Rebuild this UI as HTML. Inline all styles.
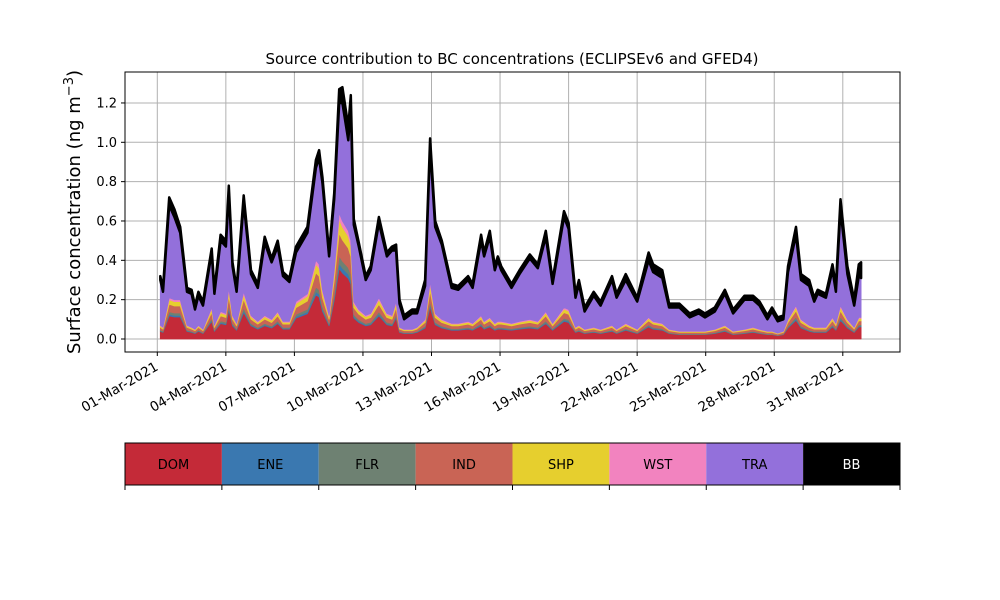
<!DOCTYPE html>
<html><head><meta charset="utf-8"><style>
body{margin:0;background:#fff;width:1000px;height:600px;overflow:hidden}
svg{display:block;font-family:"DejaVu Sans","Liberation Sans",sans-serif}
</style></head><body>
<svg id="chart" width="1000" height="600" viewBox="0 0 1000 600"></svg>
<script>
const days=[0.13,0.25,0.52,0.75,1.0,1.3,1.5,1.65,1.8,2.0,2.38,2.5,2.77,3.0,3.13,3.29,3.47,3.78,4.1,4.4,4.7,5.0,5.27,5.5,5.78,6.07,6.57,6.94,7.08,7.23,7.52,7.74,7.96,8.1,8.36,8.47,8.6,8.82,9.12,9.34,9.7,10.05,10.27,10.45,10.6,10.8,11.15,11.37,11.72,11.94,12.16,12.45,12.88,13.17,13.6,13.8,14.17,14.3,14.55,14.77,14.9,15.05,15.5,15.85,16.3,16.65,17.0,17.3,17.8,18.0,18.3,18.45,18.7,19.1,19.4,19.9,20.1,20.5,21.0,21.5,21.7,22.1,22.4,22.85,23.3,23.7,23.97,24.4,24.84,25.2,25.7,26.07,26.36,26.7,26.9,27.15,27.4,27.6,27.95,28.17,28.53,28.75,28.9,29.26,29.55,29.7,29.9,30.2,30.5,30.7,30.8];
const total=[0.32,0.26,0.72,0.66,0.57,0.26,0.25,0.17,0.24,0.19,0.46,0.25,0.53,0.50,0.78,0.39,0.26,0.73,0.35,0.28,0.52,0.41,0.50,0.34,0.31,0.47,0.57,0.91,0.96,0.82,0.44,0.74,1.27,1.28,1.08,1.24,0.61,0.49,0.32,0.37,0.62,0.44,0.47,0.48,0.20,0.12,0.15,0.15,0.30,1.02,0.60,0.50,0.28,0.27,0.32,0.28,0.53,0.44,0.55,0.37,0.42,0.37,0.28,0.35,0.43,0.38,0.55,0.30,0.65,0.59,0.23,0.30,0.16,0.24,0.19,0.32,0.23,0.33,0.21,0.44,0.38,0.35,0.18,0.18,0.13,0.15,0.13,0.16,0.25,0.15,0.22,0.22,0.19,0.12,0.16,0.11,0.12,0.37,0.57,0.33,0.30,0.21,0.25,0.23,0.38,0.27,0.71,0.37,0.20,0.38,0.39];
const lowerTotal=[0.07,0.06,0.21,0.20,0.20,0.07,0.06,0.05,0.07,0.05,0.16,0.07,0.14,0.13,0.26,0.12,0.08,0.24,0.12,0.09,0.12,0.10,0.14,0.09,0.09,0.19,0.23,0.40,0.38,0.25,0.12,0.35,0.64,0.60,0.55,0.50,0.19,0.15,0.12,0.13,0.21,0.13,0.12,0.19,0.06,0.05,0.05,0.06,0.10,0.29,0.13,0.10,0.08,0.08,0.09,0.08,0.12,0.09,0.11,0.08,0.09,0.09,0.08,0.09,0.10,0.09,0.14,0.08,0.16,0.15,0.06,0.07,0.05,0.06,0.05,0.07,0.05,0.08,0.05,0.11,0.09,0.08,0.05,0.04,0.04,0.04,0.04,0.05,0.07,0.04,0.05,0.06,0.05,0.04,0.04,0.03,0.04,0.10,0.17,0.10,0.07,0.06,0.06,0.06,0.11,0.08,0.17,0.10,0.06,0.11,0.11];
const bb=[0.02,0.02,0.04,0.04,0.03,0.02,0.02,0.02,0.02,0.02,0.02,0.02,0.03,0.03,0.03,0.02,0.02,0.04,0.02,0.02,0.03,0.02,0.03,0.02,0.02,0.03,0.03,0.04,0.04,0.03,0.02,0.03,0.07,0.08,0.07,0.06,0.03,0.02,0.02,0.02,0.03,0.02,0.02,0.03,0.02,0.02,0.02,0.02,0.03,0.04,0.03,0.02,0.02,0.02,0.02,0.02,0.03,0.02,0.03,0.02,0.02,0.02,0.02,0.02,0.02,0.02,0.03,0.02,0.03,0.03,0.02,0.02,0.02,0.02,0.02,0.02,0.02,0.03,0.02,0.04,0.04,0.04,0.02,0.02,0.02,0.02,0.02,0.02,0.02,0.02,0.02,0.02,0.02,0.02,0.02,0.02,0.02,0.03,0.04,0.03,0.03,0.02,0.02,0.02,0.03,0.03,0.05,0.04,0.03,0.06,0.08];
const sourceNames=["DOM","ENE","FLR","IND","SHP","WST","TRA","BB"];
const sourceShares=[0.56,0.04,0.06,0.18,0.11,0.05];
const colors=["#c42a38","#3a78b0","#6e8172","#c96455","#e6cf2e","#f283bf","#9370db","#000000"];
const yTicks=[0,0.2,0.4,0.6,0.8,1.0,1.2];
const xTickDays=[0,3,6,9,12,15,18,21,24,27,30];
const xTickLabels=["01-Mar-2021","04-Mar-2021","07-Mar-2021","10-Mar-2021","13-Mar-2021","16-Mar-2021","19-Mar-2021","22-Mar-2021","25-Mar-2021","28-Mar-2021","31-Mar-2021"];

const NS="http://www.w3.org/2000/svg";
const svg=document.getElementById('chart');
const L=125,R=900,T=72,B=352;
const xs=d=>157.3+22.85*d;
const ys=v=>339-196.7*v;
function mk(tag,attrs,parent){const e=document.createElementNS(NS,tag);for(const k in attrs)e.setAttribute(k,attrs[k]);(parent||svg).appendChild(e);return e;}

yTicks.forEach(v=>{const g=mk('line',{x1:L,x2:R,y1:ys(v),y2:ys(v),stroke:'#b0b0b0','stroke-width':1});

});
xTickDays.forEach(d=>{const g=mk('line',{x1:xs(d),x2:xs(d),y1:T,y2:B,stroke:'#b0b0b0','stroke-width':1});

});

const layers=[];
for(let s=0;s<6;s++)layers.push(lowerTotal.map(l=>l*sourceShares[s]));
layers.push(total.map((t,i)=>Math.max(0,t-bb[i]-lowerTotal[i])));
layers.push(bb.slice());
let cum=days.map(()=>0);
layers.forEach((lay,s)=>{
  const top=cum.map((c,i)=>c+lay[i]);
  let p='M'+days.map((d,i)=>xs(d).toFixed(1)+','+ys(top[i]).toFixed(1)).join('L');
  for(let i=days.length-1;i>=0;i--)p+='L'+xs(days[i]).toFixed(1)+','+ys(cum[i]).toFixed(1);
  p+='Z';
  const a=mk('path',{d:p,fill:colors[s],stroke:colors[s],'stroke-width':s==7?2.5:0.8,'stroke-linejoin':'round'});
  
  
  cum=top;
});

const fr=mk('rect',{x:L,y:T,width:R-L,height:B-T,fill:'none',stroke:'#000','stroke-width':1});



yTicks.forEach(v=>{
  mk('line',{x1:L-4,x2:L,y1:ys(v),y2:ys(v),stroke:'#000'});
  const t=mk('text',{x:L-8,y:ys(v)+4.5,'text-anchor':'end','font-size':13});
  t.textContent=v.toFixed(1);
  
  
});
xTickDays.forEach((d,i)=>{
  mk('line',{x1:xs(d),x2:xs(d),y1:B,y2:B+4,stroke:'#000'});
  const x=xs(d)-3,y=B+9;
  const t=mk('text',{x:x,y:y,'text-anchor':'end','font-size':13.5,transform:`rotate(-30 ${x} ${y})`,'dominant-baseline':'hanging'});
  t.textContent=xTickLabels[i];
  
  
});

const title=mk('text',{x:512,y:64,'text-anchor':'middle','font-size':15});
title.textContent='Source contribution to BC concentrations (ECLIPSEv6 and GFED4)';



const yl=mk('text',{x:80,y:212,'text-anchor':'middle','font-size':18,transform:'rotate(-90 80 212)'});
yl.innerHTML='Surface concentration (ng m<tspan dy="-7" font-size="13">−3</tspan><tspan dy="7">)</tspan>';



const lw=(R-L)/8;
sourceNames.forEach((n,i)=>{
  const r=mk('rect',{x:L+i*lw,y:443,width:lw,height:42,fill:colors[i]});
  
  
  const t=mk('text',{x:L+i*lw+lw/2,y:469,'text-anchor':'middle','font-size':13,fill:i==7?'#fff':'#000'});
  t.textContent=n;
  
  
});
const lb=mk('rect',{x:L,y:443,width:R-L,height:42,fill:'none',stroke:'#000'});


for(let i=0;i<=8;i++)mk('line',{x1:L+i*lw,x2:L+i*lw,y1:485,y2:490,stroke:'#000'});
</script>
</body></html>
